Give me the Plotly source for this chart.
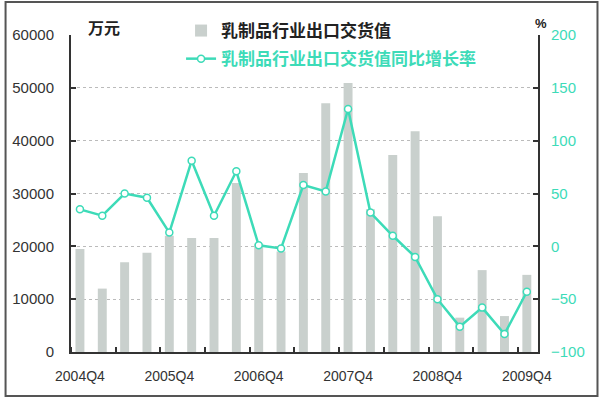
import plotly.graph_objects as go

quarters = ["2004Q4",
            "2005Q1", "2005Q2", "2005Q3", "2005Q4",
            "2006Q1", "2006Q2", "2006Q3", "2006Q4",
            "2007Q1", "2007Q2", "2007Q3", "2007Q4",
            "2008Q1", "2008Q2", "2008Q3", "2008Q4",
            "2009Q1", "2009Q2", "2009Q3", "2009Q4"]
export_value = [19500, 12000, 17000, 18800, 22000, 21600, 21600, 32000, 20500, 19000,
                33900, 47100, 50900, 27000, 37300, 41800, 25700, 6500, 15500, 6800, 14600]
growth_rate = [35, 29, 50, 46, 13, 81, 29, 71, 1, -2,
               58, 52, 130, 32, 10, -10, -50, -76, -58, -83, -43]
tick_labels = ["2004Q4", "2005Q4", "2006Q4", "2007Q4", "2008Q4", "2009Q4"]

bar_name = "乳制品行业出口交货值"
line_name = "乳制品行业出口交货值同比增长率"

BAR_C = "#c9d0cd"
LINE_C = "#3ddbb8"
AX_C = "#333333"
FONT = "Liberation Sans, Arial, Noto Sans CJK SC"
CJK = "Noto Sans CJK SC"

idx = list(range(len(quarters)))
tickvals = [quarters.index(t) for t in tick_labels]

fig = go.Figure()
fig.add_trace(go.Bar(
    x=idx, y=export_value, name=f"<b>{bar_name}</b>",
    marker=dict(color=BAR_C, line=dict(width=0)), width=0.4,
    legendgroup="a", customdata=quarters,
))
fig.add_trace(go.Scatter(
    x=idx, y=growth_rate, yaxis="y2", mode="lines+markers",
    name=f'<span style="color:{LINE_C}"><b>{line_name}</b></span>',
    line=dict(color=LINE_C, width=2.5),
    marker=dict(symbol="circle", size=7, color="white", line=dict(color=LINE_C, width=1.5)),
    legendgroup="b", customdata=quarters,
))

L, R, T, B = 67, 62, 35, 47
W, H = 600, 399
pw, ph = W - L - R, H - T - B

fig.update_layout(
    width=W, height=H,
    margin=dict(l=L, r=R, t=T, b=B),
    paper_bgcolor="white", plot_bgcolor="white",
    font=dict(family=FONT, size=15, color=AX_C),
    bargap=0.6,
    showlegend=True,
    legend=dict(x=(178 - L) / pw, y=(H - B - 13) / ph, xanchor="left", yanchor="top",
                bgcolor="rgba(0,0,0,0)", font=dict(family=CJK, size=17, color="#222222"),
                tracegroupgap=3, itemwidth=30),
    xaxis=dict(
        range=[-0.4, 20.5], tickmode="array", tickvals=tickvals, ticktext=tick_labels,
        showgrid=False, zeroline=False, showline=True, linecolor=AX_C, linewidth=2,
        ticks="", tickfont=dict(size=14, color=AX_C), ticklabelstandoff=10,
        minor=dict(tickmode="linear", tick0=1.6, dtick=2, ticks="inside", ticklen=5,
                   tickcolor=AX_C, tickwidth=1.5, showgrid=False),
    ),
    yaxis=dict(
        range=[0, 60000], dtick=10000, tickformat="d", showgrid=True, gridcolor="#bbbbbb",
        griddash="dot", gridwidth=1, zeroline=False, showline=True, linecolor=AX_C, linewidth=2,
        ticks="inside", ticklen=5, tickcolor=AX_C, tickwidth=1.5,
        tickfont=dict(size=15, color=AX_C), ticklabelstandoff=12,
    ),
    yaxis2=dict(
        range=[-100, 200], dtick=50, overlaying="y", side="right", showgrid=False,
        zeroline=False, showline=True, linecolor=AX_C, linewidth=2,
        ticks="inside", ticklen=5, tickcolor=AX_C, tickwidth=1.5,
        tickfont=dict(size=15, color=LINE_C), ticklabelstandoff=8,
    ),
    annotations=[
        dict(text="<b>万元</b>", xref="paper", yref="paper", x=(100 - L) / pw, y=(H - B - 27) / ph,
             showarrow=False, font=dict(family=CJK, size=16, color="#222222"),
             xanchor="center", yanchor="middle"),
        dict(text="<b>%</b>", xref="paper", yref="paper", x=(541 - L) / pw, y=(H - B - 23) / ph,
             showarrow=False, font=dict(family=FONT, size=13, color="#222222"),
             xanchor="center", yanchor="middle"),
    ],
    shapes=[
        dict(type="rect", xref="paper", yref="paper",
             x0=(1 - L) / pw, x1=(W - 2 - L) / pw,
             y0=(H - B - (H - 3)) / ph, y1=(H - B - 2) / ph,
             line=dict(color="#555555", width=2), fillcolor="rgba(0,0,0,0)", layer="below"),
    ],
)

fig.write_html("out.html")
